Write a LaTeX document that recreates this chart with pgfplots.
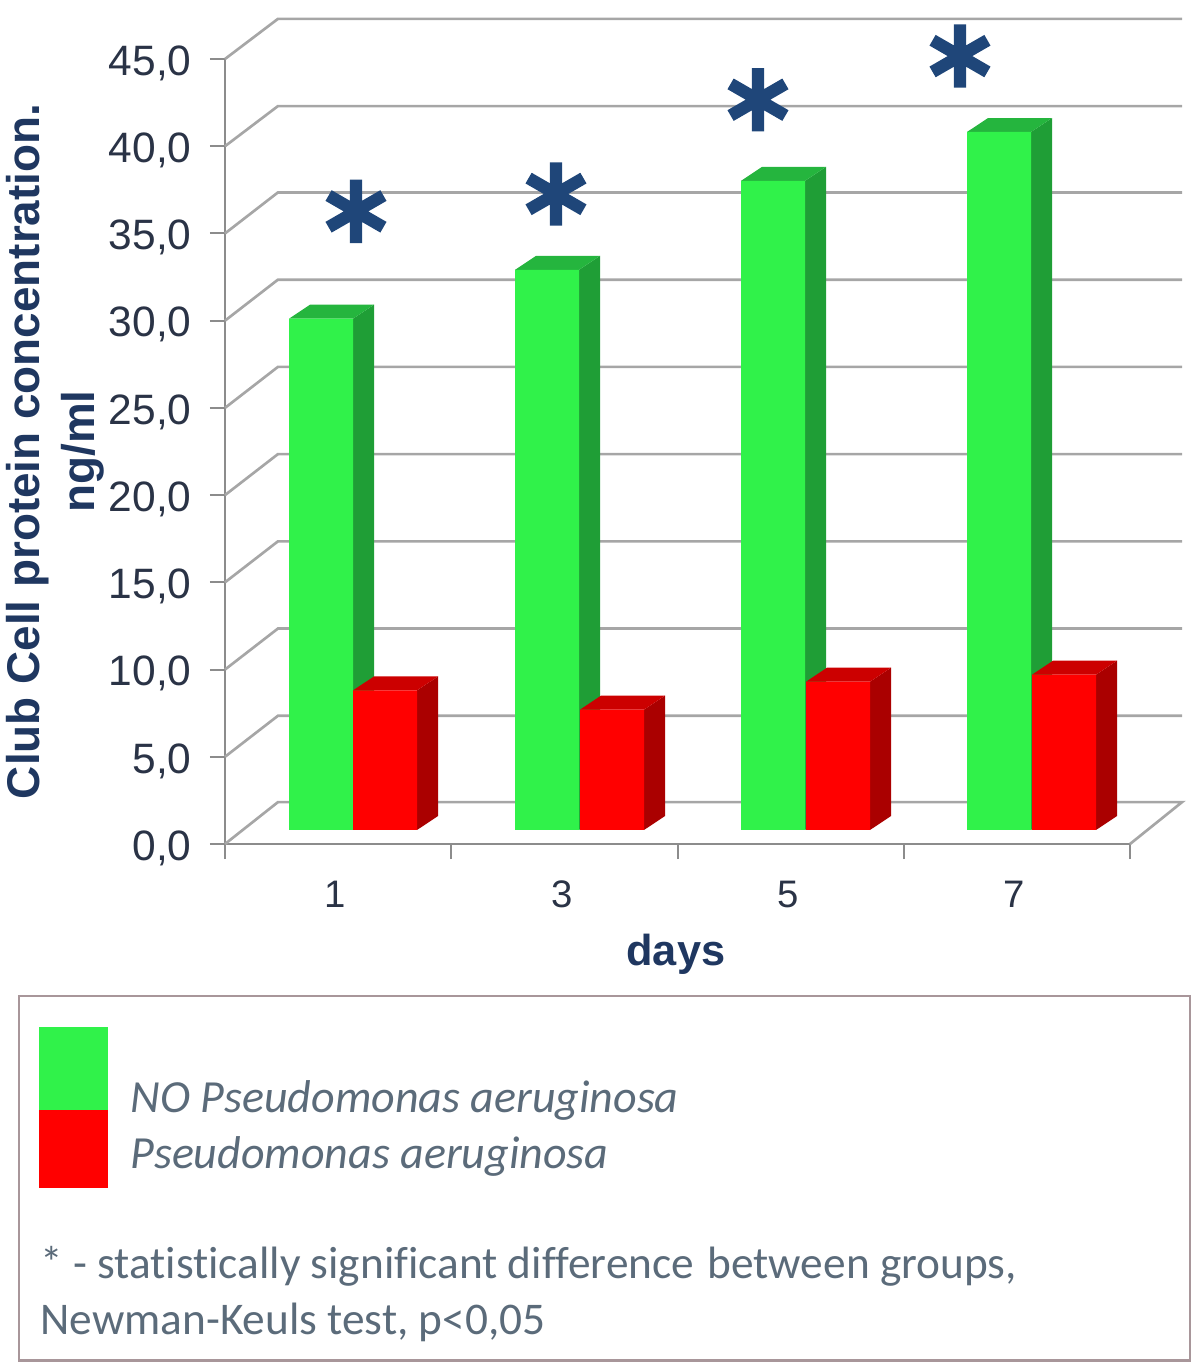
\documentclass[border=0pt]{standalone}
\usepackage{pgfplots}
\pgfplotsset{compat=1.18}
\usepackage{fontspec}
\setmainfont{Liberation Sans}
\newfontfamily\carl[Ligatures=NoCommon]{Carlito}
\definecolor{navy}{HTML}{1F3760}
\definecolor{ticktxt}{HTML}{2A3346}
\definecolor{gridc}{HTML}{A6A6A6}
\definecolor{axisc}{HTML}{8C8C8C}
\definecolor{gfront}{HTML}{30F24A}
\definecolor{gtop}{HTML}{25B53E}
\definecolor{gside}{HTML}{1F9E36}
\definecolor{rfront}{HTML}{FF0000}
\definecolor{rtop}{HTML}{CC0000}
\definecolor{rside}{HTML}{AA0000}
\definecolor{star}{HTML}{1F4679}
\definecolor{legtxt}{HTML}{5B6B7A}
\definecolor{frame}{HTML}{A8969A}
\begin{document}
\begin{tikzpicture}
\useasboundingbox (0,0) rectangle (720pt,820.2pt);
% ---------- frame axis: front plane of the 3D box
\begin{axis}[
  at={(135pt,313.8pt)}, anchor=south west,
  scale only axis, width=543pt, height=471pt,
  xmin=0, xmax=4, ymin=0, ymax=45,
  clip=false,
  axis x line=bottom, axis y line=left,
  axis line style={-, draw=axisc, line width=1.6pt},
  x tick label as interval,
  xtick={0,1,2,3,4}, xticklabels={1,3,5,7},
  ytick={0,5,...,45},
  tick align=outside, tick pos=left,
  major tick length=9pt,
  tick style={draw=axisc, line width=1.2pt},
  /pgf/number format/.cd, fixed, fixed zerofill, precision=1, use comma, assume math mode=true,
  /pgfplots/.cd,
  yticklabel style={font=\fontsize{25.5}{28}\selectfont, text=ticktxt, xshift=-7.5pt, yshift=-2.5pt},
  xticklabel style={font=\fontsize{23}{26}\selectfont, text=ticktxt, yshift=-9.5pt, xshift=-1.5pt},
  xlabel={days},
  xlabel style={font=\fontsize{26}{28}\selectfont\bfseries, text=navy, yshift=-9pt, xshift=-1pt},
  ylabel={Club Cell protein concentration.\\ng/ml},
  ylabel style={font=\fontsize{27.5}{33}\selectfont\bfseries, text=navy, align=center, yshift=-4pt},
]
\addplot[gridc, line width=1.6pt] coordinates {(0,0)(0.234,2.4)(4.23,2.4)(4,0)};
\addplot[gridc, line width=1.6pt] coordinates {(0,5)(0.234,7.35)(4.23,7.35)};
\addplot[gridc, line width=1.6pt] coordinates {(0,10)(0.234,12.35)(4.23,12.35)};
\addplot[gridc, line width=1.6pt] coordinates {(0,15)(0.234,17.35)(4.23,17.35)};
\addplot[gridc, line width=1.6pt] coordinates {(0,20)(0.234,22.35)(4.23,22.35)};
\addplot[gridc, line width=1.6pt] coordinates {(0,25)(0.234,27.35)(4.23,27.35)};
\addplot[gridc, line width=1.6pt] coordinates {(0,30)(0.234,32.35)(4.23,32.35)};
\addplot[gridc, line width=1.6pt] coordinates {(0,35)(0.234,37.35)(4.23,37.35)};
\addplot[gridc, line width=1.6pt] coordinates {(0,40)(0.234,42.3)(4.23,42.3)};
\addplot[gridc, line width=1.6pt] coordinates {(0,45)(0.234,47.3)(4.23,47.3)};
\end{axis}
% ---------- overlay axis: x in picture pixels, y in data units with 0 on the bars' base
\begin{axis}[
  at={(0pt,0pt)}, anchor=south west,
  scale only axis, width=720pt, height=820.2pt,
  xmin=0, xmax=1200, ymin=-30.774, ymax=47.564,
  hide axis, clip=false,
]
% green bars: side, top, front
\addplot[fill=gside, draw=none] coordinates {(353,29.3)(374,30.1)(374,0.8)(353,0)} --cycle;
\addplot[fill=gtop, draw=none] coordinates {(289,29.3)(310,30.1)(374,30.1)(353,29.3)} --cycle;
\addplot[fill=gside, draw=none] coordinates {(579,32.1)(600,32.9)(600,0.8)(579,0)} --cycle;
\addplot[fill=gtop, draw=none] coordinates {(515,32.1)(536,32.9)(600,32.9)(579,32.1)} --cycle;
\addplot[fill=gside, draw=none] coordinates {(805,37.2)(826,38.0)(826,0.8)(805,0)} --cycle;
\addplot[fill=gtop, draw=none] coordinates {(741,37.2)(762,38.0)(826,38.0)(805,37.2)} --cycle;
\addplot[fill=gside, draw=none] coordinates {(1031,40.0)(1052,40.8)(1052,0.8)(1031,0)} --cycle;
\addplot[fill=gtop, draw=none] coordinates {(967,40.0)(988,40.8)(1052,40.8)(1031,40.0)} --cycle;
\addplot[ybar, bar width=38.4pt, bar shift=0pt, fill=gfront, draw=none] coordinates {(321,29.3)(547,32.1)(773,37.2)(999,40.0)};
% red bars: side, top, front
\addplot[fill=rside, draw=none] coordinates {(417,8.0)(438,8.8)(438,0.8)(417,0)} --cycle;
\addplot[fill=rtop, draw=none] coordinates {(353,8.0)(374,8.8)(438,8.8)(417,8.0)} --cycle;
\addplot[fill=rside, draw=none] coordinates {(644,6.9)(665,7.7)(665,0.8)(644,0)} --cycle;
\addplot[fill=rtop, draw=none] coordinates {(580,6.9)(601,7.7)(665,7.7)(644,6.9)} --cycle;
\addplot[fill=rside, draw=none] coordinates {(870,8.5)(891,9.3)(891,0.8)(870,0)} --cycle;
\addplot[fill=rtop, draw=none] coordinates {(806,8.5)(827,9.3)(891,9.3)(870,8.5)} --cycle;
\addplot[fill=rside, draw=none] coordinates {(1096,8.9)(1117,9.7)(1117,0.8)(1096,0)} --cycle;
\addplot[fill=rtop, draw=none] coordinates {(1032,8.9)(1053,9.7)(1117,9.7)(1096,8.9)} --cycle;
\addplot[ybar, bar width=38.4pt, bar shift=0pt, fill=rfront, draw=none] coordinates {(385,8.0)(612,6.9)(838,8.5)(1064,8.9)};
% asterisks
\addplot[only marks, mark=asterisk, mark size=19pt, mark options={draw=star, line width=7.4pt}] coordinates {(356,35.45)(556,36.45)(758,41.85)(960,44.35)};
% legend box
\addplot[frame, line width=1.7pt] coordinates {(19,-9.51)(1190,-9.51)(1190,-30.4)(19,-30.4)} --cycle;
\addplot[fill=gfront, draw=none] coordinates {(39,-11.29)(108,-11.29)(108,-16.05)(39,-16.05)} --cycle;
\addplot[fill=rfront, draw=none] coordinates {(39,-16.05)(108,-16.05)(108,-20.52)(39,-20.52)} --cycle;
\node[anchor=base west, inner sep=0pt, text=legtxt, font=\carl\itshape\fontsize{27.6}{30}\selectfont] at (axis cs:130,-16.2) {NO Pseudomonas aeruginosa};
\node[anchor=base west, inner sep=0pt, text=legtxt, font=\carl\itshape\fontsize{27.6}{30}\selectfont] at (axis cs:130,-19.4) {Pseudomonas aeruginosa};
\node[anchor=base west, inner sep=0pt, text=legtxt, font=\carl\fontsize{27.2}{30}\selectfont] at (axis cs:40,-25.7) {* - statistically significant difference\hspace{8pt}between groups,};
\node[anchor=base west, inner sep=0pt, text=legtxt, font=\carl\fontsize{27.2}{30}\selectfont] at (axis cs:40,-28.9) {Newman-Keuls test, p<0,05};
\end{axis}
\end{tikzpicture}
\end{document}
